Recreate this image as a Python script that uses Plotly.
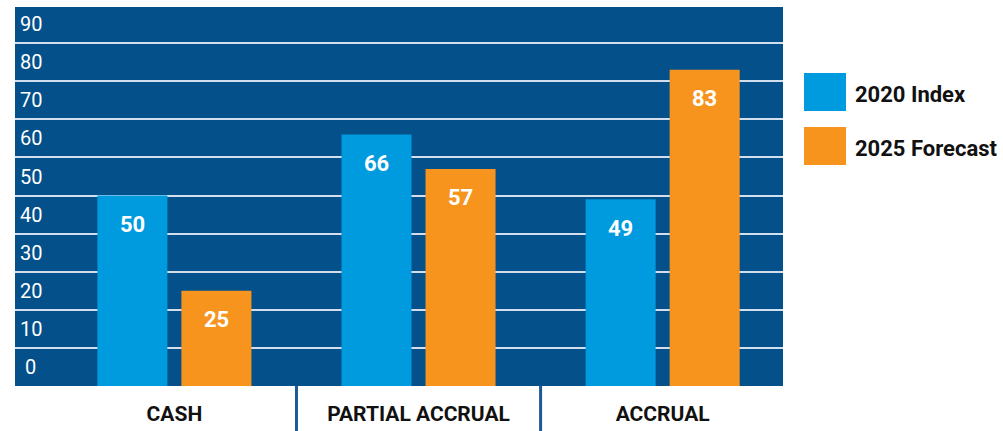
import plotly.graph_objects as go

categories = ["CASH", "PARTIAL ACCRUAL", "ACCRUAL"]
index_2020 = [50, 66, 49]
forecast_2025 = [25, 57, 83]
series_names = ["2020 Index", "2025 Forecast"]
tick_values = [5, 15, 25, 35, 45, 55, 65, 75, 85, 95]
tick_labels = ["\u00a00", "10", "20", "30", "40", "50", "60", "70", "80", "90"]
grid_values = [10, 20, 30, 40, 50, 60, 70, 80, 90]

BG = "#03508a"
BLUE = "#009ade"
ORANGE = "#f7941d"
FONT = "Roboto, Lato, sans-serif"

fig = go.Figure()
fig.add_trace(go.Bar(x=categories, y=index_2020, name=series_names[0],
                     marker=dict(color=BLUE, line=dict(width=0)), showlegend=False,
                     hoverinfo="skip"))
fig.add_trace(go.Bar(x=categories, y=forecast_2025, name=series_names[1],
                     marker=dict(color=ORANGE, line=dict(width=0)), showlegend=False,
                     hoverinfo="skip"))

# value labels
for vals, dx in ((index_2020, -42), (forecast_2025, 42)):
    for c, v in zip(categories, vals):
        fig.add_annotation(x=c, y=v, text=f"<b>{v}</b>", showarrow=False,
                           xshift=dx, yshift=-29, yanchor="middle",
                           font=dict(family=FONT, size=22, color="white"))

# separators below the plot
for xpos in (0.5, 1.5):
    fig.add_shape(type="line", xref="x", yref="paper", x0=xpos, x1=xpos,
                  y0=0, y1=-0.2, line=dict(color="#1a5a96", width=3))

# legend
for i, (name, col) in enumerate(zip(series_names, [BLUE, ORANGE])):
    y_top = 1 - (73 + i * 54 - 7) / 379
    y_bot = 1 - (111 + i * 54 - 7) / 379
    fig.add_shape(type="rect", xref="paper", yref="paper",
                  x0=(804 - 15) / 768, x1=(846 - 15) / 768, y0=y_bot, y1=y_top,
                  fillcolor=col, line=dict(width=0))
    fig.add_annotation(xref="paper", yref="paper", x=(853 - 15) / 768,
                       y=(y_top + y_bot) / 2 - 0.006, text=f"<b>{name}</b>", showarrow=False,
                       xanchor="left", yanchor="middle",
                       font=dict(family=FONT, size=22, color="#111111"))

fig.update_layout(
    width=1003, height=431,
    margin=dict(l=15, r=220, t=7, b=45),
    paper_bgcolor="white", plot_bgcolor=BG,
    barmode="group", bargap=0.3115, bargroupgap=0.1667,
    xaxis=dict(range=[-0.653, 2.493], showgrid=False, zeroline=False,
               ticks="outside", ticklen=9, tickcolor="rgba(0,0,0,0)",
               tickfont=dict(family=FONT, size=21, color="#111111"),
               tickprefix="<b>", ticksuffix="</b>", automargin=False),
    yaxis=dict(range=[0, 99.5], tickmode="array", tickvals=tick_values,
               ticktext=tick_labels, showgrid=False, zeroline=False,
               ticklabelposition="inside", ticklabelstandoff=2, automargin=False,
               tickfont=dict(family=FONT, size=20, color="white"),
               minor=dict(tickmode="array", tickvals=grid_values, showgrid=True,
                          gridcolor="#d3dfec", gridwidth=1.5)),
)

fig.write_html("out.html", config={"displayModeBar": False},
               post_script="document.body.style.margin='0';")
